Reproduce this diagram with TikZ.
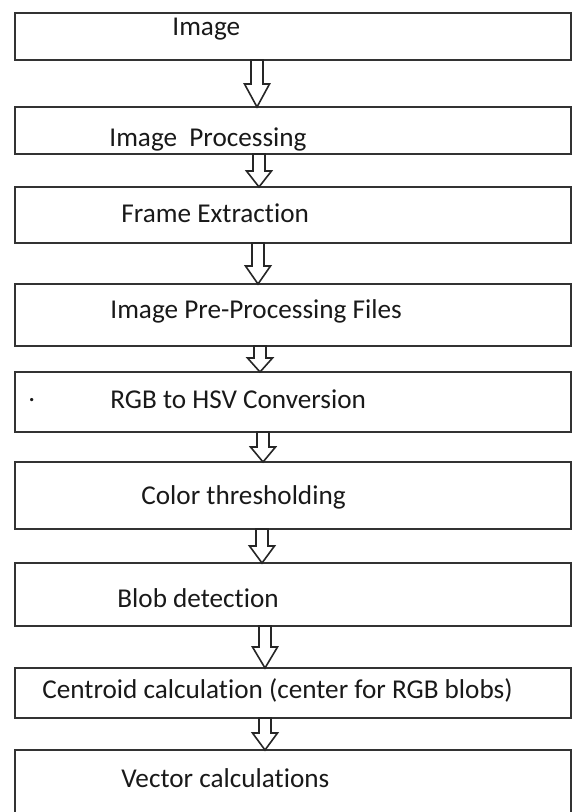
\documentclass[tikz,border=0pt]{standalone}
\usepackage{fontspec}
\setmainfont{Carlito}[Ligatures=NoCommon]
\usetikzlibrary{calc}

% hollow block arrow from one box down to the next
% #1 upper box, #2 lower box, #3 shift from box centre, #4 head length
\newcommand{\blockdown}[4]{%
  \draw[hollow] ($(#1.south)+(#3-6,0)$) -- ($(#2.north)+(#3-6,-#4)$)
    -- ($(#2.north)+(#3-12.5,-#4)$) -- ($(#2.north)+(#3,0)$)
    -- ($(#2.north)+(#3+12.5,-#4)$) -- ($(#2.north)+(#3+6,-#4)$)
    -- ($(#1.south)+(#3+6,0)$) -- cycle;}

\begin{document}
\begin{tikzpicture}[x=0.5pt,y=-0.5pt,
  box/.style={draw=black!80,line width=1pt,minimum width=278pt,outer sep=0pt,inner sep=0pt},
  txt/.style={anchor=base west,inner sep=0pt,font=\fontsize{13.6}{16}\selectfont,text=black!90},
  hollow/.style={draw=black!85,line width=0.8pt,fill=white}]
\useasboundingbox (0,0) rectangle (574,812);

% boxes
\node[box,minimum height=23.5pt] (b1) at (293,36.5) {};
\node[box,minimum height=23.5pt] (b2) at (293,130.5) {};
\node[box,minimum height=28pt] (b3) at (293,215) {};
\node[box,minimum height=31pt] (b4) at (293,315) {};
\node[box,minimum height=30pt] (b5) at (293,402) {};
\node[box,minimum height=33.5pt] (b6) at (293,495.5) {};
\node[box,minimum height=31.5pt] (b7) at (293,594.5) {};
\node[box,minimum height=25pt] (b8) at (293,693) {};
\node[box,minimum height=45pt] (b9) at (293,795) {};

% labels
\node[txt] (t1) at (172,36) {Image};
\node[txt] (t2) at (109,147) {Image\ \ Processing};
\node[txt] (t3) at (121,223) {Frame Extraction};
\node[txt] (t4) at (110,318) {Image Pre-Processing Files};
\node[txt] (t5) at (110,408) {RGB to HSV Conversion};
\node[txt] (t6) at (141,504) {Color thresholding};
\node[txt] (t7) at (117,607) {Blob detection};
\node[txt] (t8) at (42,698) {Centroid calculation (center for RGB blobs)};
\node[txt] (t9) at (121,787) {Vector calculations};
\node[txt] (dot) at (28,401) {.};

% arrows
\blockdown{b1}{b2}{-36}{23}
\blockdown{b2}{b3}{-34}{16}
\blockdown{b3}{b4}{-35}{18}
\blockdown{b4}{b5}{-33}{14}
\blockdown{b5}{b6}{-30}{15}
\blockdown{b6}{b7}{-31}{17}
\blockdown{b7}{b8}{-28}{21}
\blockdown{b8}{b9}{-28}{17}
\end{tikzpicture}
\end{document}
